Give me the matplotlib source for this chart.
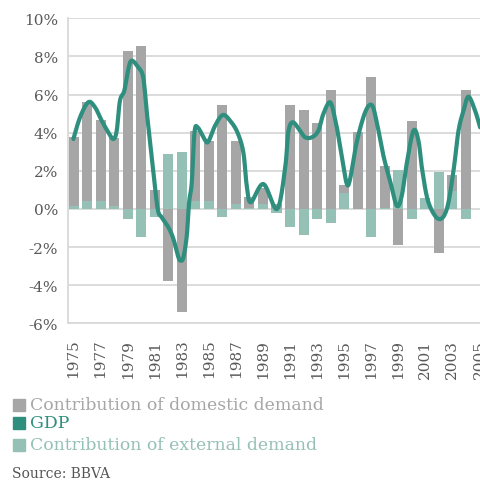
import numpy as np
import matplotlib
matplotlib.use("Agg")
import matplotlib.pyplot as plt
from matplotlib.patches import Rectangle

# ---- data ----
years = list(range(1975, 2005))
domestic = [3.60, 5.20, 4.27, 3.58, 8.27, 8.53, 1.00, -3.76, -5.38, 3.67,
            3.16, 5.45, 3.32, 0.56, 0.85, 0.25, 5.45, 5.19, 4.51, 6.24,
            0.43, 4.02, 6.92, 2.20, -1.87, 4.61, 0.00, -2.29, 0.82, 6.24]
external = [0.15, 0.40, 0.40, 0.14, -0.50, -1.45, -0.40, 2.88, 3.00, 0.40,
            0.42, -0.40, 0.26, 0.05, 0.26, -0.23, -0.93, -1.35, -0.51, -0.75,
            0.84, 0.00, -1.45, 0.03, 2.05, -0.51, 0.57, 1.95, 0.96, -0.51]

# GDP curve (time in years, value in %)
gdp_t = [1974.99, 1975.48, 1976.09, 1976.59, 1977.08, 1977.57, 1977.94, 1978.19,
         1978.43, 1978.75, 1979.05, 1979.30, 1979.78, 1980.15, 1980.40, 1980.65,
         1980.89, 1981.22, 1981.52, 1982.01, 1982.38, 1982.75, 1982.93, 1983.12,
         1983.37, 1983.54, 1983.74, 1983.94, 1984.18, 1984.67, 1984.96, 1985.46,
         1986.03, 1986.57, 1987.11, 1987.55, 1987.80, 1988.10, 1989.03, 1990.04,
         1990.63, 1990.87, 1991.20, 1991.74, 1992.11, 1992.61, 1993.09, 1993.46,
         1993.96, 1994.33, 1994.57, 1994.90, 1995.20, 1995.44, 1995.93, 1996.55,
         1997.04, 1997.41, 1997.90, 1998.39, 1998.89, 1999.26, 1999.63, 2000.12,
         2000.49, 2000.78, 2001.23, 2001.97, 2002.59, 2003.08, 2003.45, 2003.82,
         2004.19, 2004.68, 2005.05]
gdp_v = [3.67, 4.81, 5.60, 5.33, 4.63, 4.02, 3.67, 4.10,
         5.68, 6.20, 7.34, 7.78, 7.43, 6.90, 5.15, 3.58,
         2.00, 0.00, -0.44, -0.96, -1.57, -2.53, -2.71, -2.53,
         -1.40, 0.35, 1.40, 4.02, 4.28, 3.67, 3.53, 4.37,
         4.93, 4.63, 4.02, 2.97, 1.22, 0.35, 1.31, 0.00,
         2.10, 4.02, 4.55, 4.10, 3.76, 3.76, 4.10, 4.98,
         5.60, 4.72, 3.84, 2.45, 1.31, 1.57, 3.50, 5.07,
         5.45, 4.55, 2.80, 1.48, 0.17, 0.70, 2.40, 4.10,
         3.58, 2.00, 0.35, -0.52, 0.00, 2.00, 4.10, 5.15,
         5.89, 5.15, 4.28]

tick_years = list(range(1975, 2006, 2))
y_ticks = [-6, -4, -2, 0, 2, 4, 6, 8, 10]

labels = ["Contribution of domestic demand", "GDP", "Contribution of external demand"]
source = "Source: BBVA"

c_dom = "#a6a6a6"
c_gdp = "#2f8f7e"
c_ext = "#95c0b5"
c_grid = "#d9d9d9"
c_tick = "#595959"


def catmull_rom(t, v, n=12):
    t = np.asarray(t, float)
    v = np.asarray(v, float)
    P = np.column_stack([t, v])
    P = np.vstack([P[0] * 2 - P[1], P, P[-1] * 2 - P[-2]])
    out = []
    s = np.linspace(0, 1, n, endpoint=False)
    for i in range(1, len(P) - 2):
        p0, p1, p2, p3 = P[i - 1], P[i], P[i + 1], P[i + 2]
        for u in s:
            pt = 0.5 * ((2 * p1) + (-p0 + p2) * u + (2 * p0 - 5 * p1 + 4 * p2 - p3) * u ** 2
                        + (-p0 + 3 * p1 - 3 * p2 + p3) * u ** 3)
            out.append(pt)
    out.append(P[-2])
    out = np.array(out)
    return out[:, 0], out[:, 1]


plt.rcParams['font.family'] = ['DejaVu Serif']

fig = plt.figure(figsize=(4.8, 4.81), dpi=100)
x0, x1 = 1974.59, 2005.6
px_per_year = 13.53
ax_w = (x1 - x0) * px_per_year / 480
ax = fig.add_axes([68 / 480, (481 - 324.4) / 481, ax_w, 305.1 / 481])

ax.set_xlim(x0, x1)
ax.set_ylim(-6, 10)

bw = 0.74
yrs = np.array(years)
ext = np.array(external)
dom = np.array(domestic)
dom_bottom = np.where(np.sign(dom) == np.sign(ext), ext, 0.0)
ax.bar(yrs, ext, width=bw, color=c_ext, zorder=2, linewidth=0)
ax.bar(yrs, dom, bottom=dom_bottom, width=bw, color=c_dom, zorder=2, linewidth=0)

xs, ys = catmull_rom(gdp_t, gdp_v)
ax.plot(xs, ys, color=c_gdp, lw=3.0, zorder=3, solid_capstyle='round', clip_on=False)

ax.set_yticks(y_ticks)
ax.set_yticklabels([f"{v}%" for v in y_ticks])
ax.set_xticks(tick_years)
ax.set_xticklabels([str(y) for y in tick_years], rotation=90)
ax.tick_params(axis='y', length=0, pad=7, labelsize=11, labelcolor=c_tick)
ax.tick_params(axis='x', length=0, pad=11, labelsize=11, labelcolor=c_tick)
ax.grid(axis='y', color=c_grid, lw=1.3, zorder=0)
ax.set_axisbelow(True)
for s in ['top', 'right']:
    ax.spines[s].set_visible(False)
ax.spines['left'].set_color(c_grid)
ax.spines['left'].set_linewidth(1.3)
ax.spines['bottom'].set_color(c_grid)
ax.spines['bottom'].set_linewidth(1.3)

# legend
rows_y = [406, 424, 446]
cols = [c_dom, c_gdp, c_ext]
for yc, col, lab in zip(rows_y, cols, labels):
    fig.patches.append(Rectangle((13 / 480, 1 - (yc + 6) / 481), 12 / 480, 12 / 481,
                                 transform=fig.transFigure, color=col, figure=fig))
    fig.text(30 / 480, 1 - yc / 481, lab, color=col, fontsize=12.45,
             va='center', ha='left')

fig.text(12 / 480, 1 - 474 / 481, source, color="#555555", fontsize=10,
         va='center', ha='left')

fig.savefig("out.png", dpi=100)
